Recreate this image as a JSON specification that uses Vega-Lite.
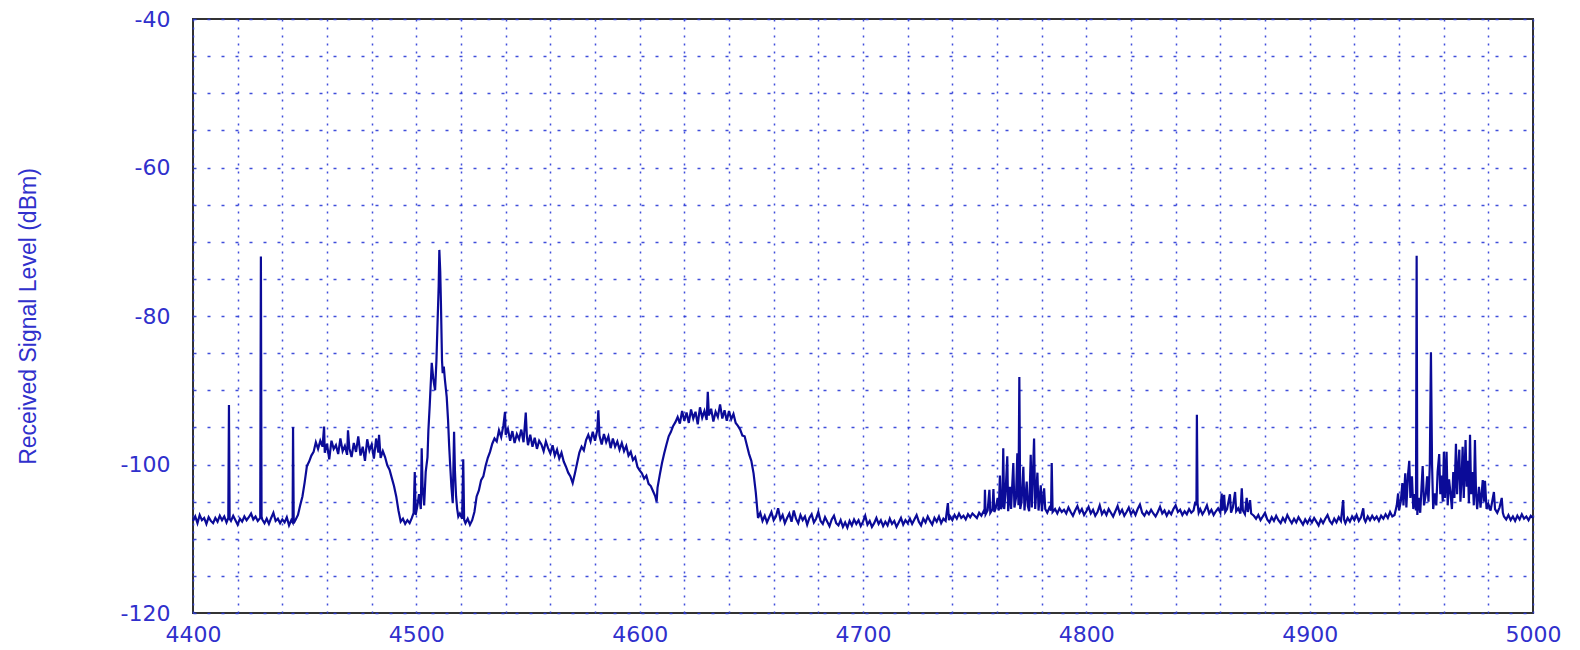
{
"$schema": "https://vega.github.io/schema/vega-lite/v6.json",
"width": 1340,
"height": 594,
"autosize": {"type": "none"},
"padding": {"left": 193, "top": 19, "right": 47, "bottom": 37},
"background": "white",
"config": {
  "view": {"stroke": "#333333", "strokeWidth": 2},
  "axis": {
    "grid": true, "gridColor": "#2b3bd6", "gridWidth": 1.5, "gridOpacity": 0.9,
    "domain": false, "ticks": false, "tickSize": 0,
    "labelColor": "#3030cc", "labelFont": "DejaVu Sans", "labelFontSize": 22,
    "labelOverlap": false, "labelFlush": false,
    "titleColor": "#3030cc", "titleFont": "Liberation Sans", "titleFontSize": 23, "titleFontWeight": "normal"
  }
},
"data": {"values": [
{"f":4400,"v":-107.6},{"f":4401,"v":-107.0},{"f":4402,"v":-107.9},{"f":4403,"v":-106.8},{"f":4404,"v":-107.5},{"f":4405,"v":-107.2},{"f":4406,"v":-108.0},{"f":4407,"v":-107.1},{"f":4408,"v":-107.6},{"f":4409,"v":-107.9},{"f":4410,"v":-107.2},{"f":4411,"v":-107.7},{"f":4412,"v":-106.9},{"f":4413,"v":-107.5},{"f":4414,"v":-107.0},{"f":4415,"v":-107.8},{"f":4415.8,"v":-107.2},{"f":4416.1,"v":-92},{"f":4416.4,"v":-107.3},{"f":4417,"v":-107.6},{"f":4418,"v":-106.9},{"f":4419,"v":-107.5},{"f":4420,"v":-108.1},{"f":4421,"v":-107.3},{"f":4422,"v":-107.7},{"f":4423,"v":-107.0},{"f":4424,"v":-107.5},{"f":4425,"v":-107.1},{"f":4426,"v":-106.6},{"f":4427,"v":-107.4},{"f":4428,"v":-107.0},{"f":4429,"v":-107.6},{"f":4430.1,"v":-107.2},{"f":4430.4,"v":-72},{"f":4430.7,"v":-107.0},{"f":4431,"v":-107.4},{"f":4432,"v":-107.9},{"f":4433,"v":-107.3},{"f":4434,"v":-108.0},{"f":4435,"v":-107.2},{"f":4436,"v":-106.5},{"f":4437,"v":-107.6},{"f":4438,"v":-107.3},{"f":4439,"v":-107.9},{"f":4440,"v":-107.4},{"f":4441,"v":-107.8},{"f":4442,"v":-107.1},{"f":4443,"v":-108.2},{"f":4444,"v":-107.5},{"f":4444.6,"v":-107.8},{"f":4444.8,"v":-95},{"f":4445.1,"v":-107.9},{"f":4446,"v":-107.4},{"f":4447,"v":-106.8},{"f":4448,"v":-105.5},{"f":4449,"v":-104.3},{"f":4450,"v":-102.4},{"f":4451,"v":-100.2},{"f":4452,"v":-99.6},{"f":4453,"v":-98.8},{"f":4454,"v":-98.3},{"f":4455,"v":-97.0},{"f":4456,"v":-97.9},{"f":4457,"v":-96.8},{"f":4458,"v":-97.6},{"f":4458.7,"v":-94.9},{"f":4459,"v":-98.4},{"f":4460,"v":-97.2},{"f":4461,"v":-99.3},{"f":4462,"v":-96.8},{"f":4463,"v":-97.9},{"f":4464,"v":-97.4},{"f":4465,"v":-98.6},{"f":4466,"v":-96.5},{"f":4467,"v":-98.2},{"f":4468,"v":-97.5},{"f":4469,"v":-98.7},{"f":4469.4,"v":-95.4},{"f":4470,"v":-97.8},{"f":4471,"v":-99.0},{"f":4472,"v":-97.1},{"f":4473,"v":-98.3},{"f":4474,"v":-96.2},{"f":4475,"v":-98.8},{"f":4476,"v":-97.6},{"f":4477,"v":-99.5},{"f":4478,"v":-96.6},{"f":4479,"v":-98.1},{"f":4480,"v":-97.3},{"f":4481,"v":-99.2},{"f":4482,"v":-96.5},{"f":4483,"v":-98.4},{"f":4483.3,"v":-96},{"f":4484,"v":-99.1},{"f":4485,"v":-98.2},{"f":4486,"v":-99.0},{"f":4487,"v":-100.1},{"f":4488,"v":-100.7},{"f":4489,"v":-101.8},{"f":4490,"v":-102.9},{"f":4491,"v":-104.3},{"f":4492,"v":-106.2},{"f":4493,"v":-107.7},{"f":4494,"v":-107.3},{"f":4495,"v":-108.0},{"f":4496,"v":-107.5},{"f":4497,"v":-107.9},{"f":4498,"v":-107.2},{"f":4498.8,"v":-106.5},{"f":4499.3,"v":-101},{"f":4499.7,"v":-106.8},{"f":4500.5,"v":-105.5},{"f":4501.2,"v":-104},{"f":4502,"v":-106},{"f":4502.4,"v":-97.8},{"f":4502.8,"v":-103},{"f":4503.5,"v":-105.5},{"f":4504.2,"v":-101},{"f":4505,"v":-99},{"f":4505.4,"v":-95.4},{"f":4506,"v":-92},{"f":4506.9,"v":-86.3},{"f":4507.6,"v":-88.5},{"f":4508.4,"v":-90},{"f":4509,"v":-86},{"f":4509.4,"v":-81.9},{"f":4510,"v":-76},{"f":4510.3,"v":-71.1},{"f":4510.7,"v":-74},{"f":4511,"v":-78},{"f":4511.5,"v":-86},{"f":4511.8,"v":-87.7},{"f":4512.3,"v":-86.8},{"f":4512.8,"v":-88.6},{"f":4513.6,"v":-90.9},{"f":4514.2,"v":-94},{"f":4514.7,"v":-97.5},{"f":4515.1,"v":-99.8},{"f":4515.7,"v":-103},{"f":4516.3,"v":-105.2},{"f":4516.9,"v":-95.6},{"f":4517.3,"v":-101},{"f":4517.8,"v":-104.3},{"f":4518.3,"v":-106},{"f":4518.8,"v":-107},{"f":4519.5,"v":-106.6},{"f":4520.5,"v":-107.3},{"f":4521,"v":-99.3},{"f":4521.4,"v":-107.4},{"f":4522,"v":-107.9},{"f":4523,"v":-107.3},{"f":4524,"v":-108.1},{"f":4525,"v":-107.5},{"f":4526,"v":-106.4},{"f":4527,"v":-104.3},{"f":4528,"v":-103.5},{"f":4529,"v":-102.1},{"f":4530,"v":-101.6},{"f":4531,"v":-100.2},{"f":4532,"v":-99.1},{"f":4533,"v":-98.3},{"f":4534,"v":-97.2},{"f":4535,"v":-96.5},{"f":4536,"v":-96.9},{"f":4537,"v":-95.4},{"f":4538,"v":-96.3},{"f":4539,"v":-94.7},{"f":4539.7,"v":-92.9},{"f":4540,"v":-96.0},{"f":4541,"v":-95.2},{"f":4542,"v":-96.8},{"f":4543,"v":-95.5},{"f":4544,"v":-97.1},{"f":4545,"v":-95.9},{"f":4546,"v":-96.6},{"f":4547,"v":-95.3},{"f":4548,"v":-97.0},{"f":4549,"v":-93.0},{"f":4549.5,"v":-96.2},{"f":4550,"v":-97.4},{"f":4551,"v":-96.0},{"f":4552,"v":-97.6},{"f":4553,"v":-96.4},{"f":4554,"v":-97.9},{"f":4555,"v":-96.8},{"f":4556,"v":-97.3},{"f":4557,"v":-98.2},{"f":4558,"v":-96.9},{"f":4559,"v":-97.8},{"f":4560,"v":-98.5},{"f":4561,"v":-97.4},{"f":4562,"v":-98.8},{"f":4563,"v":-98.0},{"f":4564,"v":-99.2},{"f":4565,"v":-98.4},{"f":4566,"v":-99.6},{"f":4567,"v":-100.3},{"f":4568,"v":-101.1},{"f":4569,"v":-101.6},{"f":4570,"v":-102.5},{"f":4571,"v":-101.2},{"f":4572,"v":-99.8},{"f":4573,"v":-98.4},{"f":4574,"v":-97.6},{"f":4575,"v":-98.1},{"f":4576,"v":-96.7},{"f":4577,"v":-96.0},{"f":4578,"v":-96.9},{"f":4579,"v":-95.6},{"f":4580,"v":-96.8},{"f":4581,"v":-95.4},{"f":4581.5,"v":-92.7},{"f":4582,"v":-96.1},{"f":4583,"v":-97.3},{"f":4584,"v":-95.9},{"f":4585,"v":-97.0},{"f":4586,"v":-96.2},{"f":4587,"v":-97.8},{"f":4588,"v":-96.5},{"f":4589,"v":-97.6},{"f":4590,"v":-96.9},{"f":4591,"v":-98.0},{"f":4592,"v":-97.1},{"f":4593,"v":-98.2},{"f":4594,"v":-97.5},{"f":4595,"v":-98.8},{"f":4596,"v":-98.3},{"f":4597,"v":-99.4},{"f":4598,"v":-99.0},{"f":4599,"v":-100.3},{"f":4600,"v":-100.8},{"f":4601,"v":-101.2},{"f":4602,"v":-101.9},{"f":4603,"v":-101.5},{"f":4604,"v":-102.6},{"f":4605,"v":-102.9},{"f":4606,"v":-103.6},{"f":4607,"v":-104.3},{"f":4607.6,"v":-105},{"f":4608,"v":-103.1},{"f":4609,"v":-101.4},{"f":4610,"v":-99.8},{"f":4611,"v":-98.5},{"f":4612,"v":-97.3},{"f":4613,"v":-96.2},{"f":4614,"v":-95.6},{"f":4615,"v":-94.8},{"f":4616,"v":-94.3},{"f":4617,"v":-93.6},{"f":4618,"v":-94.5},{"f":4619,"v":-92.8},{"f":4620,"v":-94.1},{"f":4621,"v":-93.0},{"f":4622,"v":-94.4},{"f":4623,"v":-92.6},{"f":4624,"v":-93.8},{"f":4625,"v":-92.9},{"f":4626,"v":-94.6},{"f":4627,"v":-92.3},{"f":4628,"v":-93.7},{"f":4629,"v":-92.8},{"f":4630,"v":-94.0},{"f":4630.5,"v":-90.2},{"f":4631,"v":-93.4},{"f":4632,"v":-92.5},{"f":4633,"v":-94.2},{"f":4634,"v":-92.9},{"f":4635,"v":-93.6},{"f":4636,"v":-91.9},{"f":4637,"v":-93.8},{"f":4638,"v":-92.7},{"f":4639,"v":-94.1},{"f":4640,"v":-92.8},{"f":4641,"v":-93.9},{"f":4642,"v":-93.2},{"f":4643,"v":-94.4},{"f":4644,"v":-94.8},{"f":4645,"v":-95.3},{"f":4646,"v":-96.1},{"f":4647,"v":-96.2},{"f":4648,"v":-97.4},{"f":4649,"v":-98.6},{"f":4650,"v":-99.5},{"f":4651,"v":-101.2},{"f":4652,"v":-103.8},{"f":4653,"v":-107.2},
{"f":4654,"v":-106.5},{"f":4655,"v":-107.6},{"f":4656,"v":-106.9},{"f":4657,"v":-107.8},{"f":4658,"v":-107.1},{"f":4659,"v":-106.4},{"f":4660,"v":-107.5},{"f":4661,"v":-107.0},{"f":4662,"v":-105.9},{"f":4663,"v":-107.4},{"f":4664,"v":-106.8},{"f":4665,"v":-107.9},{"f":4666,"v":-107.2},{"f":4667,"v":-106.6},{"f":4668,"v":-107.7},{"f":4669,"v":-106.2},{"f":4670,"v":-107.3},{"f":4671,"v":-107.9},{"f":4672,"v":-106.8},{"f":4673,"v":-107.5},{"f":4674,"v":-107.0},{"f":4675,"v":-108.1},{"f":4676,"v":-107.2},{"f":4677,"v":-106.7},{"f":4678,"v":-107.8},{"f":4679,"v":-107.3},{"f":4680,"v":-106.4},{"f":4681,"v":-107.6},{"f":4682,"v":-108.0},{"f":4683,"v":-107.1},{"f":4684,"v":-107.7},{"f":4685,"v":-108.3},{"f":4686,"v":-107.4},{"f":4687,"v":-106.9},{"f":4688,"v":-107.9},{"f":4689,"v":-108.2},{"f":4690,"v":-107.5},{"f":4691,"v":-108.4},{"f":4692,"v":-107.8},{"f":4693,"v":-108.5},{"f":4694,"v":-107.6},{"f":4695,"v":-108.2},{"f":4696,"v":-107.4},{"f":4697,"v":-108.0},{"f":4698,"v":-107.5},{"f":4699,"v":-108.3},{"f":4700,"v":-107.7},{"f":4701,"v":-106.9},{"f":4702,"v":-108.1},{"f":4703,"v":-107.6},{"f":4704,"v":-108.4},{"f":4705,"v":-107.9},{"f":4706,"v":-107.2},{"f":4707,"v":-108.0},{"f":4708,"v":-107.5},{"f":4709,"v":-108.3},{"f":4710,"v":-107.7},{"f":4711,"v":-108.2},{"f":4712,"v":-107.3},{"f":4713,"v":-108.0},{"f":4714,"v":-107.6},{"f":4715,"v":-108.4},{"f":4716,"v":-107.8},{"f":4717,"v":-107.2},{"f":4718,"v":-108.1},{"f":4719,"v":-107.5},{"f":4720,"v":-107.9},{"f":4721,"v":-107.3},{"f":4722,"v":-108.0},{"f":4723,"v":-107.4},{"f":4724,"v":-106.8},{"f":4725,"v":-107.7},{"f":4726,"v":-108.2},{"f":4727,"v":-107.3},{"f":4728,"v":-107.8},{"f":4729,"v":-107.0},{"f":4730,"v":-107.6},{"f":4731,"v":-108.1},{"f":4732,"v":-107.2},{"f":4733,"v":-107.7},{"f":4734,"v":-107.0},{"f":4735,"v":-107.9},{"f":4736,"v":-107.3},{"f":4737,"v":-107.6},{"f":4738,"v":-105.2},{"f":4738.5,"v":-107.5},{"f":4739,"v":-107.0},{"f":4740,"v":-107.5},{"f":4741,"v":-106.8},{"f":4742,"v":-107.3},{"f":4743,"v":-106.6},{"f":4744,"v":-107.2},{"f":4745,"v":-106.9},{"f":4746,"v":-107.4},{"f":4747,"v":-106.7},{"f":4748,"v":-107.1},{"f":4749,"v":-106.6},
{"f":4750,"v":-106.9},{"f":4751,"v":-107.2},{"f":4752,"v":-106.5},{"f":4753,"v":-106.9},{"f":4754,"v":-106.3},{"f":4754.4,"v":-106.6},{"f":4754.6,"v":-103.4},{"f":4754.9,"v":-106.7},{"f":4755.8,"v":-106.2},{"f":4756.6,"v":-103.4},{"f":4757,"v":-106.5},{"f":4758,"v":-106},{"f":4758.4,"v":-103.3},{"f":4758.8,"v":-106.4},{"f":4759.5,"v":-105.8},{"f":4760.3,"v":-104.5},{"f":4760.8,"v":-106.2},{"f":4761.3,"v":-101.5},{"f":4761.8,"v":-106},{"f":4762.4,"v":-105.5},{"f":4762.8,"v":-97.8},{"f":4763.2,"v":-106},{"f":4763.8,"v":-104},{"f":4764.6,"v":-98.9},{"f":4765,"v":-106.3},{"f":4765.8,"v":-103},{"f":4766.3,"v":-106},{"f":4767.3,"v":-99.8},{"f":4767.8,"v":-105.8},{"f":4768.5,"v":-104.5},{"f":4769.1,"v":-98.5},{"f":4769.6,"v":-105.5},{"f":4770,"v":-88.2},{"f":4770.4,"v":-106},{"f":4771,"v":-105},{"f":4771.8,"v":-100.3},{"f":4772.3,"v":-106.2},{"f":4773.3,"v":-102.3},{"f":4773.8,"v":-105.6},{"f":4774.4,"v":-106.3},{"f":4775.1,"v":-98.7},{"f":4775.6,"v":-105.8},{"f":4776.6,"v":-96.5},{"f":4777.1,"v":-106},{"f":4778.1,"v":-101.1},{"f":4778.6,"v":-106.2},{"f":4779.6,"v":-102.8},{"f":4780.1,"v":-106.3},{"f":4781.1,"v":-103.2},{"f":4781.6,"v":-106},{"f":4782.5,"v":-106.5},{"f":4783.5,"v":-105.8},{"f":4784.2,"v":-106.2},{"f":4784.5,"v":-99.8},{"f":4784.9,"v":-106.4},{"f":4786,"v":-106},{"f":4787,"v":-106.6},{"f":4788,"v":-105.9},{"f":4789,"v":-106.4},{"f":4790,"v":-106.1},
{"f":4791,"v":-106.6},{"f":4792,"v":-105.8},{"f":4793,"v":-106.4},{"f":4794,"v":-106.9},{"f":4795,"v":-106.2},{"f":4796,"v":-105.6},{"f":4797,"v":-106.5},{"f":4798,"v":-106.0},{"f":4799,"v":-106.8},{"f":4800,"v":-106.3},{"f":4801,"v":-105.7},{"f":4802,"v":-106.6},{"f":4803,"v":-106.1},{"f":4804,"v":-106.9},{"f":4805,"v":-106.4},{"f":4806,"v":-105.5},{"f":4807,"v":-106.7},{"f":4808,"v":-106.2},{"f":4809,"v":-106.8},{"f":4810,"v":-106.0},{"f":4811,"v":-106.5},{"f":4812,"v":-107.0},{"f":4813,"v":-106.3},{"f":4814,"v":-105.6},{"f":4815,"v":-106.6},{"f":4816,"v":-106.1},{"f":4817,"v":-106.9},{"f":4818,"v":-106.4},{"f":4819,"v":-105.8},{"f":4820,"v":-106.7},{"f":4821,"v":-106.2},{"f":4822,"v":-106.8},{"f":4823,"v":-106.0},{"f":4824,"v":-105.4},{"f":4825,"v":-106.5},{"f":4826,"v":-106.9},{"f":4827,"v":-106.3},{"f":4828,"v":-106.7},{"f":4829,"v":-106.1},{"f":4830,"v":-106.6},{"f":4831,"v":-107.0},{"f":4832,"v":-106.4},{"f":4833,"v":-105.7},{"f":4834,"v":-106.6},{"f":4835,"v":-106.2},{"f":4836,"v":-106.9},{"f":4837,"v":-106.3},{"f":4838,"v":-106.7},{"f":4839,"v":-106.0},{"f":4840,"v":-105.5},{"f":4841,"v":-106.4},{"f":4842,"v":-106.1},{"f":4843,"v":-106.8},{"f":4844,"v":-106.3},{"f":4845,"v":-106.7},{"f":4846,"v":-106.0},{"f":4847,"v":-106.5},{"f":4848,"v":-106.2},{"f":4848.8,"v":-105.0},{"f":4849.3,"v":-105.5},{"f":4849.5,"v":-93.3},{"f":4849.8,"v":-105.2},{"f":4850.3,"v":-106.5},{"f":4851,"v":-106.0},{"f":4852,"v":-106.7},{"f":4853,"v":-106.2},{"f":4854,"v":-105.5},{"f":4855,"v":-106.6},{"f":4856,"v":-106.1},{"f":4857,"v":-106.8},{"f":4858,"v":-106.3},{"f":4859,"v":-105.9},{"f":4860,"v":-106.5},{"f":4860.6,"v":-103.9},{"f":4861,"v":-106.2},{"f":4861.7,"v":-104.1},{"f":4862.2,"v":-106.4},{"f":4863,"v":-106.0},{"f":4864.3,"v":-104.0},{"f":4864.8,"v":-106.5},{"f":4865.6,"v":-105.8},{"f":4866.6,"v":-103.7},{"f":4867.1,"v":-106.3},{"f":4868,"v":-105.9},{"f":4869,"v":-106.6},{"f":4869.6,"v":-103.2},{"f":4870.1,"v":-106.2},{"f":4871,"v":-106.7},{"f":4871.8,"v":-104.5},{"f":4872.3,"v":-106.4},{"f":4873.3,"v":-104.8},{"f":4873.8,"v":-106.6},{"f":4875,"v":-106.9},{"f":4876,"v":-107.3},{"f":4877,"v":-106.8},{"f":4878,"v":-107.5},{"f":4879,"v":-107.0},{"f":4880,"v":-106.5},{"f":4881,"v":-107.4},{"f":4882,"v":-107.8},{"f":4883,"v":-107.1},{"f":4884,"v":-107.6},{"f":4885,"v":-106.9},{"f":4886,"v":-107.5},{"f":4887,"v":-107.9},{"f":4888,"v":-107.2},{"f":4889,"v":-107.7},{"f":4890,"v":-106.8},{"f":4891,"v":-107.4},{"f":4892,"v":-107.9},{"f":4893,"v":-107.3},{"f":4894,"v":-107.8},{"f":4895,"v":-107.1},{"f":4896,"v":-107.6},{"f":4897,"v":-108.1},{"f":4898,"v":-107.4},{"f":4899,"v":-107.9},{"f":4900,"v":-107.3},{"f":4901,"v":-107.8},{"f":4902,"v":-107.2},{"f":4903,"v":-107.7},{"f":4904,"v":-108.2},{"f":4905,"v":-107.4},{"f":4906,"v":-107.9},{"f":4907,"v":-107.3},{"f":4908,"v":-106.8},{"f":4909,"v":-107.6},{"f":4910,"v":-108.0},{"f":4911,"v":-107.3},{"f":4912,"v":-107.8},{"f":4913,"v":-107.1},{"f":4914,"v":-107.6},{"f":4915,"v":-104.8},{"f":4915.4,"v":-107.4},{"f":4916,"v":-107.9},{"f":4917,"v":-107.2},{"f":4918,"v":-107.7},{"f":4919,"v":-107.0},{"f":4920,"v":-107.5},{"f":4921,"v":-106.8},{"f":4922,"v":-107.6},{"f":4923,"v":-107.1},{"f":4924,"v":-105.9},{"f":4924.4,"v":-107.3},{"f":4925,"v":-107.7},{"f":4926,"v":-107.0},{"f":4927,"v":-107.5},{"f":4928,"v":-106.9},{"f":4929,"v":-107.4},{"f":4930,"v":-107.0},{"f":4931,"v":-107.6},{"f":4932,"v":-106.9},{"f":4933,"v":-107.3},{"f":4934,"v":-106.7},{"f":4935,"v":-107.2},{"f":4936,"v":-106.4},{"f":4937,"v":-107.0},
{"f":4938,"v":-106.8},{"f":4939,"v":-105.5},{"f":4939.6,"v":-103.9},{"f":4940,"v":-106.2},{"f":4940.8,"v":-105},{"f":4941.5,"v":-102.5},{"f":4942,"v":-105.5},{"f":4942.8,"v":-101.2},{"f":4943.3,"v":-105.8},{"f":4944,"v":-101.5},{"f":4944.6,"v":-99.5},{"f":4945.1,"v":-104.5},{"f":4945.8,"v":-101.6},{"f":4946.4,"v":-106},{"f":4947,"v":-104},{"f":4947.6,"v":-106.2},{"f":4947.9,"v":-71.9},{"f":4948.2,"v":-106.8},{"f":4948.8,"v":-104.5},{"f":4949.5,"v":-106.5},{"f":4950.1,"v":-103},{"f":4950.6,"v":-100.2},{"f":4951.2,"v":-105.5},{"f":4952,"v":-104},{"f":4952.6,"v":-101.6},{"f":4953.2,"v":-105},{"f":4953.8,"v":-100},{"f":4954.3,"v":-84.9},{"f":4954.8,"v":-100},{"f":4955.3,"v":-106},{"f":4956.1,"v":-103.9},{"f":4956.7,"v":-105.5},{"f":4957.3,"v":-101},{"f":4958,"v":-98.6},{"f":4958.5,"v":-104},{"f":4959,"v":-101.5},{"f":4959.6,"v":-105},{"f":4960.1,"v":-98.3},{"f":4960.6,"v":-104.5},{"f":4961.3,"v":-98.3},{"f":4961.8,"v":-105.5},{"f":4962.4,"v":-102},{"f":4963.1,"v":-104},{"f":4963.7,"v":-106},{"f":4964.3,"v":-101},{"f":4964.8,"v":-104.5},{"f":4965.5,"v":-97.2},{"f":4966,"v":-104},{"f":4966.5,"v":-100.5},{"f":4967,"v":-98},{"f":4967.5,"v":-105},{"f":4968,"v":-102},{"f":4968.5,"v":-97.6},{"f":4969,"v":-104.5},{"f":4969.8,"v":-96.7},{"f":4970.3,"v":-103},{"f":4970.8,"v":-99.5},{"f":4971.3,"v":-105.2},{"f":4971.8,"v":-96},{"f":4972.3,"v":-104},{"f":4972.9,"v":-101},{"f":4973.5,"v":-105.5},{"f":4974,"v":-96.7},{"f":4974.5,"v":-104},{"f":4975,"v":-106},{"f":4975.8,"v":-103},{"f":4976.5,"v":-105.8},{"f":4977.5,"v":-102.1},{"f":4978,"v":-105},{"f":4978.5,"v":-102.2},{"f":4979.2,"v":-106},{"f":4980,"v":-105.3},{"f":4981,"v":-106.2},{"f":4982.5,"v":-103.7},{"f":4983,"v":-106},{"f":4984,"v":-106.5},{"f":4985,"v":-105.8},{"f":4986,"v":-104.5},{"f":4986.5,"v":-106.5},{"f":4987,"v":-107},
{"f":4988,"v":-107.4},{"f":4989,"v":-106.8},{"f":4990,"v":-107.5},{"f":4991,"v":-107.0},{"f":4992,"v":-107.6},{"f":4993,"v":-106.9},{"f":4994,"v":-107.4},{"f":4995,"v":-106.7},{"f":4996,"v":-107.3},{"f":4997,"v":-107.0},{"f":4998,"v":-107.5},{"f":4999,"v":-106.9},{"f":5000,"v":-107.2}
]},
"mark": {"type": "line", "color": "#0b0b98", "strokeWidth": 2.2, "interpolate": "linear"},
"encoding": {
  "x": {"field": "f", "type": "quantitative",
        "scale": {"domain": [4400, 5000], "nice": false, "zero": false},
        "axis": {"title": null,
                 "values": [4400,4420,4440,4460,4480,4500,4520,4540,4560,4580,4600,4620,4640,4660,4680,4700,4720,4740,4760,4780,4800,4820,4840,4860,4880,4900,4920,4940,4960,4980,5000],
                 "labelExpr": "datum.value % 100 === 0 ? '' + datum.value : ''",
                 "gridDash": [2, 6], "labelPadding": 11}},
  "y": {"field": "v", "type": "quantitative",
        "scale": {"domain": [-120, -40], "nice": false, "zero": false},
        "axis": {"title": "Received Signal Level (dBm)",
                 "values": [-120,-115,-110,-105,-100,-95,-90,-85,-80,-75,-70,-65,-60,-55,-50,-45,-40],
                 "labelExpr": "datum.value % 20 === 0 ? '' + datum.value : ''",
                 "gridDash": [3, 11], "labelPadding": 23, "titlePadding": 80}}
}
}
